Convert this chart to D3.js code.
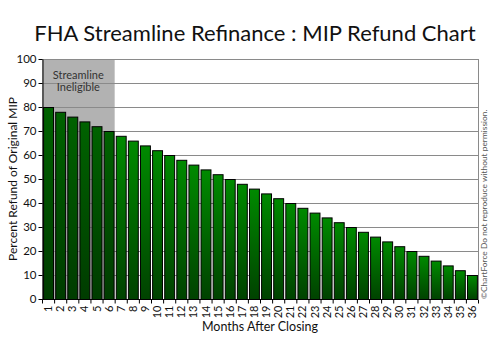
<!DOCTYPE html>
<html><head><meta charset="utf-8">
<script src="https://cdn.jsdelivr.net/npm/d3@7"></script>
<style>body{margin:0;background:#fff}svg{display:block}text{font-family:Lato,"Open Sans",sans-serif}</style>
</head><body>
<svg id="c" width="500" height="351"></svg>
<script>
const months = ["1","2","3","4","5","6","7","8","9","10","11","12","13","14","15","16","17","18","19","20","21","22","23","24","25","26","27","28","29","30","31","32","33","34","35","36"];
const refunds = [80,78,76,74,72,70,68,66,64,62,60,58,56,54,52,50,48,46,44,42,40,38,36,34,32,30,28,26,24,22,20,18,16,14,12,10];
const ineligibleMonths = ["1","2","3","4","5","6"];
const yTicks = [0,10,20,30,40,50,60,70,80,90,100];

const svg = d3.select("#c");
const m = {l:42, r:478, t:59, b:299};
const x = d3.scaleBand().domain(months).range([m.l, m.r]).paddingInner(0.18).paddingOuter(0.09);
const xe = d3.scaleBand().domain(months).range([m.l, m.r]);
const y = d3.scaleLinear().domain([0,100]).range([m.b, m.t]);

const defs = svg.append("defs");
const g1 = defs.append("linearGradient").attr("id","gDark").attr("x1",0).attr("y1",0).attr("x2",0).attr("y2",1);
g1.append("stop").attr("offset","0%").attr("stop-color","#006200");
g1.append("stop").attr("offset","100%").attr("stop-color","#003c00");
const g2 = defs.append("linearGradient").attr("id","gBright").attr("x1",0).attr("y1",0).attr("x2",0).attr("y2",1);
g2.append("stop").attr("offset","0%").attr("stop-color","#008a00");
g2.append("stop").attr("offset","100%").attr("stop-color","#004200");

// gray ineligible area
svg.append("rect")
  .attr("x", xe(ineligibleMonths[0]))
  .attr("y", y(100))
  .attr("width", xe(ineligibleMonths[ineligibleMonths.length-1]) + xe.bandwidth() - xe(ineligibleMonths[0]))
  .attr("height", y(0)-y(100))
  .attr("fill","#b2b2b2");

// gridlines
svg.append("g").selectAll("line").data(yTicks.filter(d=>d>0)).join("line")
  .attr("x1", m.l).attr("x2", m.r).attr("y1", d=>y(d)+0.5).attr("y2", d=>y(d)+0.5)
  .attr("stroke","#8a8a8a").attr("stroke-width",1);
svg.append("line").attr("x1", m.r+0.5).attr("x2", m.r+0.5).attr("y1", y(100)).attr("y2", y(0))
  .attr("stroke","#8a8a8a");

// ineligible label
const lx = xe(ineligibleMonths[0]) + (xe(ineligibleMonths[5]) + xe.bandwidth() - xe(ineligibleMonths[0]))/2;
svg.append("text").attr("x", lx).attr("y", 79).attr("text-anchor","middle").attr("font-size",11).attr("fill","#333").text("Streamline");
svg.append("text").attr("x", lx).attr("y", 91).attr("text-anchor","middle").attr("font-size",11).attr("fill","#333").text("Ineligible");

// bars
svg.append("g").selectAll("rect").data(months).join("rect")
  .attr("x", d=>x(d)+0.5)
  .attr("y", (d,i)=>y(refunds[i])+0.5)
  .attr("width", x.bandwidth())
  .attr("height", (d,i)=>y(0)-y(refunds[i]))
  .attr("fill", d=> ineligibleMonths.includes(d) ? "url(#gDark)" : "url(#gBright)")
  .attr("stroke","#000").attr("stroke-width",1);

// y axis
const ya = svg.append("g").attr("transform",`translate(${m.l+0.5},0)`)
  .call(d3.axisLeft(y).tickValues(yTicks).tickSize(4).tickSizeOuter(0));
ya.select(".domain").attr("stroke","#000");
ya.selectAll("text").attr("font-size",11.5).attr("fill","#111").attr("dx",1);

// x axis
const xa = svg.append("g").attr("transform",`translate(0,${m.b+0.5})`);
xa.append("line").attr("x1", m.l).attr("x2", m.r).attr("stroke","#000");
xa.selectAll(".tk").data(months.concat(["end"])).join("line").attr("class","tk")
  .attr("x1", (d,i)=> m.l + i*xe.step()+0.5).attr("x2",(d,i)=> m.l + i*xe.step()+0.5)
  .attr("y1",0).attr("y2",4).attr("stroke","#000");
xa.selectAll("text").data(months).join("text")
  .attr("transform", d=>`translate(${xe(d)+xe.bandwidth()/2+4},6) rotate(-90)`)
  .attr("text-anchor","end").attr("font-size",11).attr("fill","#111").text(d=>d);

// titles
svg.append("text").attr("x", 255).attr("y", 41).attr("text-anchor","middle").attr("font-size",22).attr("fill","#111")
  .text("FHA Streamline Refinance : MIP Refund Chart");
svg.append("text").attr("x", 260).attr("y", 331).attr("text-anchor","middle").attr("font-size",12.5).attr("fill","#111")
  .text("Months After Closing");
svg.append("text").attr("transform",`translate(17,${(m.t+m.b)/2}) rotate(-90)`).attr("text-anchor","middle")
  .attr("font-size",12).attr("fill","#111").text("Percent Refund of Original MIP");
svg.append("text").attr("transform",`translate(487,${m.b}) rotate(-90)`).attr("text-anchor","start")
  .attr("font-size",8.4).attr("fill","#555").text("©ChartForce  Do not reproduce without permission.");
</script>
</body></html>
